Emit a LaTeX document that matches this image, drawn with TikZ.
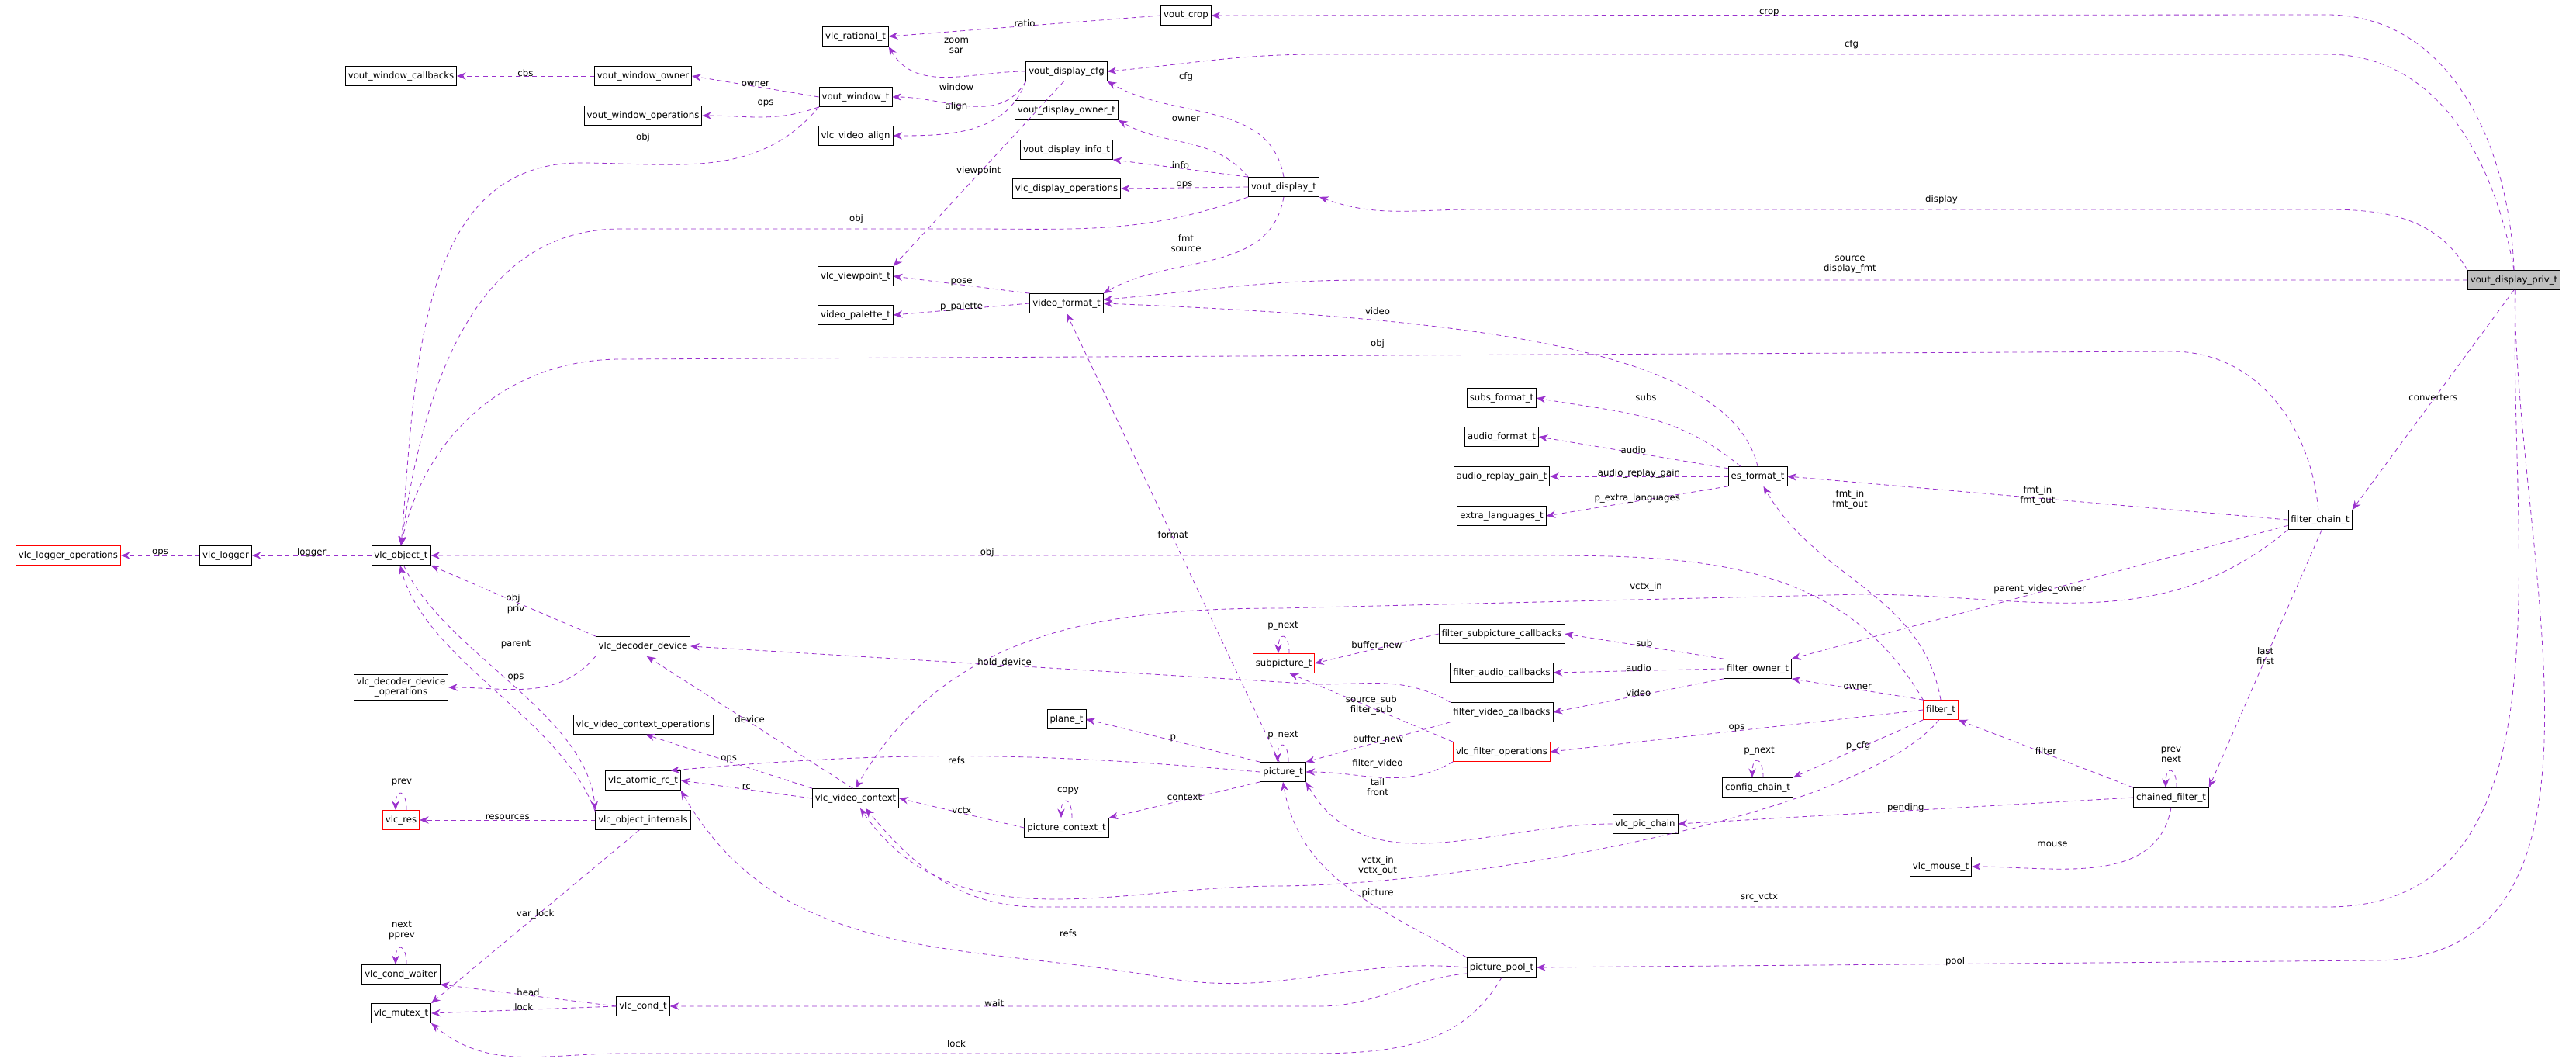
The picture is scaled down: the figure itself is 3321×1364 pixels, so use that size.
\documentclass[tikz,border=0pt]{standalone}
\usepackage{fontspec}
\setmainfont{DejaVu Sans}
\usetikzlibrary{arrows.meta}
\definecolor{edgepurple}{RGB}{154,50,205}
\definecolor{privgray}{RGB}{191,191,191}
\tikzset{
  cls/.style={draw=black, line width=0.6pt, minimum height=0.75cm, inner xsep=3pt, font=\fontsize{10}{11}\selectfont, align=center, fill=white},
  redcls/.style={cls, draw=red},
  lbl/.style={font=\fontsize{10}{11}\selectfont, inner sep=1pt, align=center, yshift=3pt},
  rel/.style={draw=edgepurple, dash pattern=on 5pt off 4pt, line width=0.7pt, -{Stealth[length=10pt,width=8pt]}}
}
\begin{document}
\begin{tikzpicture}[x=0.03cm, y=0.03cm]
  \useasboundingbox (0,0) rectangle (3321,-1364);

  % Klassen
  \node[cls, fill=privgray] (priv) at (3241,-361) {vout\_display\_priv\_t};
  \node[cls] (crop) at (1529,-20) {vout\_crop};
  \node[cls] (rat) at (1103,-47) {vlc\_rational\_t};
  \node[cls] (cfg) at (1375,-92) {vout\_display\_cfg};
  \node[cls] (wcb) at (517,-98) {vout\_window\_callbacks};
  \node[cls] (wown) at (829,-98) {vout\_window\_owner};
  \node[cls] (wint) at (1103,-125) {vout\_window\_t};
  \node[cls] (wops) at (829,-149) {vout\_window\_operations};
  \node[cls] (align) at (1103,-175) {vlc\_video\_align};
  \node[cls] (downer) at (1375,-142) {vout\_display\_owner\_t};
  \node[cls] (dinfo) at (1375,-193) {vout\_display\_info\_t};
  \node[cls] (dops) at (1375,-243) {vlc\_display\_operations};
  \node[cls] (disp) at (1655,-241) {vout\_display\_t};
  \node[cls] (vp) at (1103,-356) {vlc\_viewpoint\_t};
  \node[cls] (pal) at (1103,-406) {video\_palette\_t};
  \node[cls] (vfmt) at (1375,-391) {video\_format\_t};
  \node[redcls] (logops) at (88,-716) {vlc\_logger\_operations};
  \node[cls] (logger) at (291,-716) {vlc\_logger};
  \node[cls] (objt) at (517,-716) {vlc\_object\_t};
  \node[cls] (dec) at (829,-833) {vlc\_decoder\_device};
  \node[cls] (decops) at (517,-886) {vlc\_decoder\_device\\\_operations};
  \node[cls] (vcops) at (829,-934) {vlc\_video\_context\_operations};
  \node[cls] (atom) at (829,-1006) {vlc\_atomic\_rc\_t};
  \node[cls] (vvctx) at (1103,-1029) {vlc\_video\_context};
  \node[redcls] (res) at (517,-1057) {vlc\_res};
  \node[cls] (intl) at (829,-1057) {vlc\_object\_internals};
  \node[cls] (pctx) at (1375,-1067) {picture\_context\_t};
  \node[cls] (plane) at (1375,-927) {plane\_t};
  \node[cls] (pict) at (1654,-995) {picture\_t};
  \node[redcls] (sub) at (1655,-855) {subpicture\_t};
  \node[cls] (waiter) at (517,-1256) {vlc\_cond\_waiter};
  \node[cls] (mutex) at (517,-1306) {vlc\_mutex\_t};
  \node[cls] (cond) at (829,-1297) {vlc\_cond\_t};
  \node[cls] (subs) at (1936,-513) {subs\_format\_t};
  \node[cls] (afmt) at (1936,-563) {audio\_format\_t};
  \node[cls] (rgain) at (1936,-614) {audio\_replay\_gain\_t};
  \node[cls] (xlang) at (1936,-665) {extra\_languages\_t};
  \node[cls] (es) at (2266,-614) {es\_format\_t};
  \node[cls] (fchain) at (2991,-670) {filter\_chain\_t};
  \node[cls] (fsub) at (1936,-817) {filter\_subpicture\_callbacks};
  \node[cls] (faud) at (1936,-867) {filter\_audio\_callbacks};
  \node[cls] (fvid) at (1936,-918) {filter\_video\_callbacks};
  \node[cls] (fown) at (2266,-862) {filter\_owner\_t};
  \node[redcls] (filt) at (2502,-915) {filter\_t};
  \node[redcls] (vfops) at (1936,-969) {vlc\_filter\_operations};
  \node[cls] (cfgc) at (2266,-1015) {config\_chain\_t};
  \node[cls] (pchain) at (2121,-1062) {vlc\_pic\_chain};
  \node[cls] (chf) at (2799,-1028) {chained\_filter\_t};
  \node[cls] (mouse) at (2502,-1117) {vlc\_mouse\_t};
  \node[cls] (pool) at (1936,-1247) {picture\_pool\_t};

  % vout_display_priv_t
  \draw[rel] (priv.north) to[out=92,in=0] (3000,-19) -- node[lbl, at={(2387,-10)}] {crop} (crop.east);
  \draw[rel] (priv.north) to[out=100,in=0] (3000,-70) -- (1700,-70) node[lbl, at={(2387,-61)}] {cfg} to[out=180,in=5] (cfg.east);
  \draw[rel] (priv.north west) to[out=120,in=0] (3000,-270) -- (1900,-270) node[lbl, at={(2503,-261)}] {display} to[out=180,in=-20] (disp.south east);
  \draw[rel] (priv.west) -- (1760,-361) node[lbl, at={(2385,-345)}] {source\\display\_fmt} to[out=180,in=5] ([yshift=4pt]vfmt.east);
  \draw[rel] (priv.south) -- node[lbl, at={(3105,-480)}] {converters} (fchain.north east);
  \draw[rel] (priv.-80) to[out=-92,in=0] (3000,-1169) -- (1340,-1169) node[lbl, at={(2268,-1160)}] {src\_vctx} to[out=180,in=-50] (vvctx.-45);
  \draw[rel] (priv.-85) to[out=-90,in=0] (3060,-1238) -- node[lbl, at={(2646,-1229)}] {pool} (pool.east);

  % Anzeige und Fenster
  \draw[rel] (crop.west) -- node[lbl, at={(1233,-30)}] {ratio} (rat.east);
  \draw[rel] (cfg.west) to[out=180,in=-60] (rat.south east) node[lbl, at={(1233,-62)}] {zoom\\sar};
  \draw[rel] (cfg.south west) to[out=-120,in=0] (wint.east) node[lbl, at={(1233,-116)}] {window};
  \draw[rel] (cfg.south west) to[out=-110,in=0] (align.east) node[lbl, at={(1233,-141)}] {align};
  \draw[rel] (cfg.-105) -- node[lbl, at={(1233,-184)}] {viewpoint} (vp.north east);
  \draw[rel] (wint.west) -- node[lbl, at={(987,-104)}] {owner} (wown.east);
  \draw[rel] (wown.west) -- node[lbl, at={(665,-91)}] {cbs} (wcb.east);
  \draw[rel] (wint.south west) to[out=-160,in=0] (wops.east) node[lbl, at={(987,-137)}] {ops};
  \draw[rel] (wint.south west) to[out=-130,in=0] (748,-210) node[lbl, at={(829,-181)}] {obj} to[out=180,in=85] (objt.north);
  \draw[rel] (disp.north) to[out=100,in=-30] (cfg.south east) node[lbl, at={(1529,-103)}] {cfg};
  \draw[rel] (disp.north west) to[out=130,in=-30] (downer.south east) node[lbl, at={(1529,-157)}] {owner};
  \draw[rel] (disp.north west) -- node[lbl, at={(1529,-204)}] {info} (dinfo.south east);
  \draw[rel] (disp.west) -- node[lbl, at={(1529,-235)}] {ops} (dops.east);
  \draw[rel] (disp.south west) to[out=200,in=0] (1250,-295) -- (800,-295) node[lbl, at={(1104,-286)}] {obj} to[out=180,in=82] (objt.north);
  \draw[rel] (disp.south) to[out=-100,in=30] (vfmt.north east) node[lbl, at={(1529,-317)}] {fmt\\source};
  \draw[rel] (vfmt.north west) -- node[lbl, at={(1233,-361)}] {pose} (vp.east);
  \draw[rel] (vfmt.west) -- node[lbl, at={(1233,-395)}] {p\_palette} (pal.east);

  % es_format_t
  \draw[rel] (es.north) .. controls (2230,-450) and (1900,-410) .. (vfmt.east) node[lbl, at={(1776,-405)}] {video};
  \draw[rel] (es.150) to[out=140,in=-10] (subs.east) node[lbl, at={(2122,-516)}] {subs};
  \draw[rel] (es.165) -- node[lbl, at={(2122,-568)}] {audio} (afmt.east);
  \draw[rel] (es.west) -- node[lbl, at={(2122,-605)}] {audio\_replay\_gain} (rgain.east);
  \draw[rel] (es.south west) -- node[lbl, at={(2122,-627)}] {p\_extra\_languages} (xlang.east);

  % filter_chain_t
  \draw[rel] (fchain.100) to[out=95,in=0] (2800,-453) -- (800,-463) node[lbl, at={(1776,-447)}] {obj} to[out=180,in=78] (objt.north);
  \draw[rel] (fchain.west) -- node[lbl, at={(2646,-623)}] {fmt\_in\\fmt\_out} (es.east);
  \draw[rel] (fchain.south west) to[out=-140,in=0] (2400,-766) -- (1650,-784) node[lbl, at={(2122,-760)}] {vctx\_in} to[out=180,in=60] (vvctx.north);
  \draw[rel] (fchain.-170) -- node[lbl, at={(2646,-717)}] {parent\_video\_owner} (fown.north east);
  \draw[rel] (fchain.-80) -- node[lbl, at={(2899,-809)}] {last\\first} (chf.north east);

  % vlc_object_t
  \draw[rel] (objt.west) -- node[lbl, at={(385,-708)}] {logger} (logger.east);
  \draw[rel] (logger.west) -- node[lbl, at={(209,-708)}] {ops} (logops.east);
  \draw[rel] (dec.north west) -- node[lbl, at={(665,-747)}] {obj} (objt.south east);
  \draw[rel] (objt.-75) to[out=-65,in=95,looseness=0.8] (intl.north west) node[lbl, at={(665,-789)}] {priv};
  \draw[rel] (intl.170) to[out=110,in=-75,looseness=0.8] (objt.-95) node[lbl, at={(665,-834)}] {parent};
  \draw[rel] (dec.south west) to[out=-130,in=0] (decops.east) node[lbl, at={(665,-877)}] {ops};
  \draw[rel] (intl.west) -- node[lbl, at={(665,-1049)}] {resources} (res.east);
  \draw[rel] ([xshift=6pt]res.north) .. controls +(0pt,24pt) and +(0pt,24pt) .. ([xshift=-6pt]res.north) node[lbl, at={(518,-1012)}] {prev};
  \draw[rel] (intl.-110) -- node[lbl, at={(665,-1176)}] {var\_lock} (mutex.north east);

  % vlc_video_context
  \draw[rel] (vvctx.105) -- node[lbl, at={(987,-921)}] {device} (dec.-70);
  \draw[rel] (vvctx.north west) -- node[lbl, at={(987,-973)}] {ops} (vcops.-75);
  \draw[rel] (vvctx.west) -- node[lbl, at={(987,-1009)}] {rc} (atom.east);
  \draw[rel] (pctx.west) -- node[lbl, at={(1233,-1035)}] {vctx} (vvctx.east);
  \draw[rel] ([xshift=6pt]pctx.north) .. controls +(0pt,24pt) and +(0pt,24pt) .. ([xshift=-6pt]pctx.north) node[lbl, at={(1377,-1023)}] {copy};

  % picture_t
  \draw[rel] (pict.110) -- node[lbl, at={(1529,-751)}] {format} (vfmt.south);
  \draw[rel] (pict.west) to[out=175,in=5] (atom.20) node[lbl, at={(1233,-984)}] {refs};
  \draw[rel] (pict.south west) -- node[lbl, at={(1529,-1007)}] {context} (pctx.north east);
  \draw[rel] (pict.north west) -- node[lbl, at={(1529,-932)}] {p} (plane.east);
  \draw[rel] ([xshift=6pt]pict.north) .. controls +(0pt,24pt) and +(0pt,24pt) .. ([xshift=-6pt]pict.north) node[lbl, at={(1654,-951)}] {p\_next};
  \draw[rel] ([xshift=6pt]sub.north) .. controls +(0pt,24pt) and +(0pt,24pt) .. ([xshift=-6pt]sub.north) node[lbl, at={(1654,-810)}] {p\_next};

  % filter_t
  \draw[rel] (filt.north) to[out=100,in=-60] (es.-60) node[lbl, at={(2385,-647)}] {fmt\_in\\fmt\_out};
  \draw[rel] (filt.north west) to[out=120,in=0] (1990,-716) -- node[lbl, at={(1529,-708)}] {obj} (objt.east);
  \draw[rel] (fsub.west) -- node[lbl, at={(1776,-824)}] {buffer\_new} (sub.east);
  \draw[rel] (fvid.south west) -- node[lbl, at={(1776,-944)}] {buffer\_new} (pict.north east);
  \draw[rel] (fvid.north west) to[out=150,in=0] (1700,-882) -- node[lbl, at={(1377,-859)}] {hold\_device} (dec.east);
  \draw[rel] (fown.north west) -- node[lbl, at={(2122,-820)}] {sub} (fsub.east);
  \draw[rel] (fown.west) -- node[lbl, at={(2122,-856)}] {audio} (faud.east);
  \draw[rel] (fown.south west) -- node[lbl, at={(2122,-877)}] {video} (fvid.east);
  \draw[rel] (filt.150) -- node[lbl, at={(2387,-871)}] {owner} (fown.south east);
  \draw[rel] (filt.west) -- node[lbl, at={(2268,-924)}] {ops} (vfops.east);
  \draw[rel] (filt.south west) -- node[lbl, at={(2387,-940)}] {p\_cfg} (cfgc.north east);
  \draw[rel] ([xshift=6pt]cfgc.north) .. controls +(0pt,24pt) and +(0pt,24pt) .. ([xshift=-6pt]cfgc.north) node[lbl, at={(2268,-971)}] {p\_next};
  \draw[rel] (filt.-100) .. controls (2400,-1050) and (1900,-1140) .. (1650,-1142) node[lbl, at={(1776,-1119)}] {vctx\_in\\vctx\_out} to[out=180,in=-55] (vvctx.-65);
  \draw[rel] (vfops.north west) -- node[lbl, at={(1776,-883)}] {source\_sub\\filter\_sub} (sub.-60);
  \draw[rel] (vfops.south west) to[out=-150,in=0] (pict.east) node[lbl, at={(1776,-988)}] {filter\_video};

  % chained_filter_t
  \draw[rel] (pchain.west) to[out=180,in=-60] (pict.south east) node[lbl, at={(1776,-1018)}] {tail\\front};
  \draw[rel] (chf.west) -- node[lbl, at={(2387,-1039)}] {pending} (pchain.east);
  \draw[rel] (chf.north west) -- node[lbl, at={(2646,-937)}] {filter} (filt.south east);
  \draw[rel] ([xshift=6pt]chf.north) .. controls +(0pt,24pt) and +(0pt,24pt) .. ([xshift=-6pt]chf.north) node[lbl, at={(2799,-976)}] {prev\\next};
  \draw[rel] (chf.south) to[out=-100,in=0] (mouse.east) node[lbl, at={(2646,-1092)}] {mouse};

  % picture_pool_t
  \draw[rel] (pool.north west) to[out=150,in=-80] (pict.south) node[lbl, at={(1776,-1155)}] {picture};
  \draw[rel] (pool.west) to[out=175,in=-10] (1500,-1260) node[lbl, at={(1377,-1207)}] {refs} to[out=170,in=-60] (atom.south east);
  \draw[rel] (pool.-170) to[out=185,in=0] (1700,-1297) -- node[lbl, at={(1377,-1289)}] {wait} (cond.east);
  \draw[rel] (pool.south) to[out=-120,in=0] (1650,-1358) -- (800,-1358) node[lbl, at={(1233,-1349)}] {lock} to[out=180,in=-40] (mutex.south east);
  \draw[rel] (cond.west) -- node[lbl, at={(665,-1262)}] {head} (waiter.south east);
  \draw[rel] (cond.west) -- node[lbl, at={(665,-1292)}] {lock} (mutex.east);
  \draw[rel] ([xshift=6pt]waiter.north) .. controls +(0pt,24pt) and +(0pt,24pt) .. ([xshift=-6pt]waiter.north) node[lbl, at={(518,-1203)}] {next\\pprev};
\end{tikzpicture}
\end{document}
